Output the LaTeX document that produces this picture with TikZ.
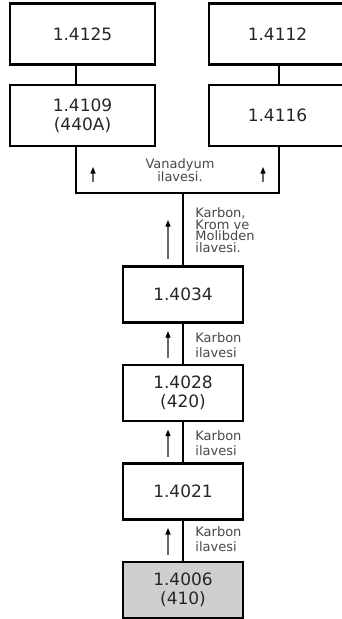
\documentclass[tikz,border=0pt]{standalone}
\usepackage{fontspec}
\setmainfont{DejaVu Sans}
\usetikzlibrary{positioning,arrows.meta,calc}
\definecolor{basegray}{HTML}{CFCFCF}
\definecolor{notegray}{HTML}{474747}

\begin{document}
\begin{tikzpicture}[x=1pt, y=-1pt, node distance=40pt, thick,
        grade/.style={draw, line width=2.4pt, minimum width=120pt, minimum height=56pt,
            align=center, text=black!85, font=\fontsize{17}{19}\selectfont},
        widegrade/.style={grade, minimum width=145pt, minimum height=61pt},
        basegrade/.style={grade, fill=basegray},
        note/.style={align=left, inner sep=0pt, text=notegray, font=\fontsize{13}{15}\selectfont},
        link/.style={line width=2.4pt, line join=miter},
        uparrow/.style={line width=1.3pt, draw=black!60, -{Triangle[length=6.5pt,width=5pt,black]}}]
        \useasboundingbox (0,0) rectangle (342,619);

        % upper grades
        \node[widegrade] (G4125) at (82.5,34) {1.4125};
        \node[widegrade, minimum width=137pt] (G4112) at (277.5,34) {1.4112};
        \node[widegrade] (G4109) at (82.5,115.5) {1.4109\\(440A)};
        \node[widegrade, minimum width=137pt] (G4116) at (277.5,115.5) {1.4116};

        % chain
        \node[grade] (G4034) at (183,294.5) {1.4034};
        \node[grade] (G4028) [below=of G4034] {1.4028\\(420)};
        \node[grade] (G4021) [below=of G4028] {1.4021};
        \node[basegrade] (G4006) [below=of G4021] {1.4006\\(410)};

        \coordinate (uL) at (76,193);
        \coordinate (uR) at (279,193);
        \coordinate (uC) at (183,193);

        \draw[link] (G4125.south -| uL) -- (G4109.north -| uL);
        \draw[link] (G4112.south -| uR) -- (G4116.north -| uR);
        \draw[link] (G4109.south -| uL) -- (uL) -- (uR) -- (G4116.south -| uR);
        \draw[link] (uC) -- (G4034);
        \draw[link] (G4034) -- (G4028);
        \draw[link] (G4028) -- (G4021);
        \draw[link] (G4021) -- (G4006);

        % notes
        \node[note, align=center, font=\fontsize{13}{13}\selectfont] (nV) at (180,170) {Vanadyum\\ilavesi.};
        \node[note, anchor=west, font=\fontsize{13}{11.7}\selectfont] (nCKM) at (195,230) {Karbon,\\Krom ve\\Molibden\\ilavesi.};
        \node[note, anchor=west] (nK1) at ($(G4034.south)!0.5!(G4028.north)+(12,1)$) {Karbon\\ilavesi};
        \node[note, anchor=west] (nK2) at ($(G4028.south)!0.5!(G4021.north)+(12,1)$) {Karbon\\ilavesi};
        \node[note, anchor=west] (nK3) at ($(G4021.south)!0.5!(G4006.north)+(12,-1)$) {Karbon\\ilavesi};

        % small arrows
        \draw[uparrow] ($(uL)+(17,-11)$) -- ($(uL)+(17,-26)$);
        \draw[uparrow] ($(uR)+(-16,-11)$) -- ($(uR)+(-16,-26)$);
        \draw[uparrow] ($(G4034.north)+(-15,-6.5)$) -- ($(uC)+(-15,27)$);
        \draw[uparrow] ($(G4028.north)+(-15,-5.5)$) -- ($(G4034.south)+(-15,7.5)$);
        \draw[uparrow] ($(G4021.north)+(-15,-5.5)$) -- ($(G4028.south)+(-15,7.5)$);
        \draw[uparrow] ($(G4006.north)+(-15,-5.5)$) -- ($(G4021.south)+(-15,7.5)$);
    \end{tikzpicture}
\end{document}
